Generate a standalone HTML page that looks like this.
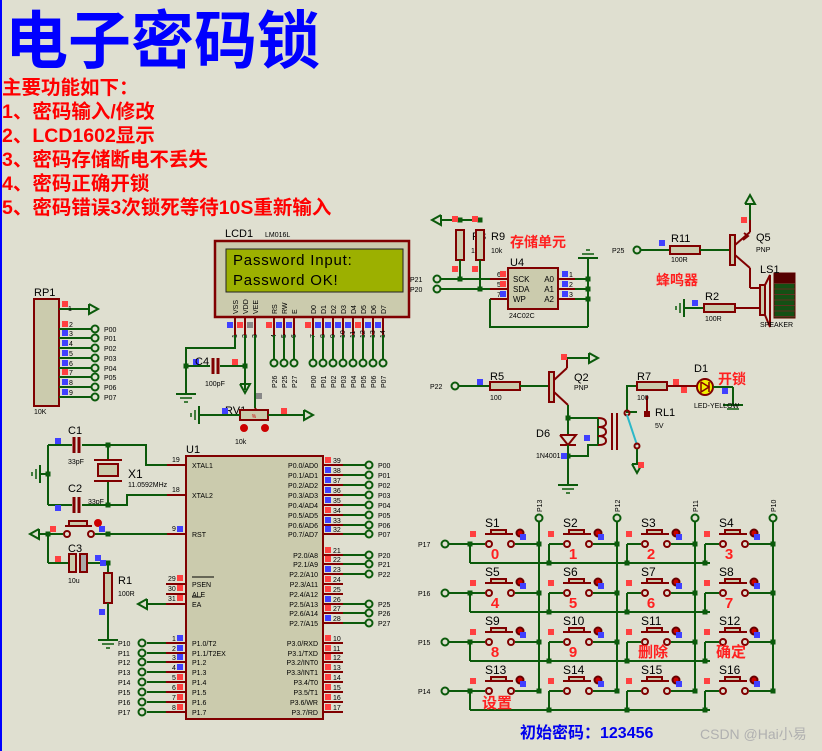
<!DOCTYPE html>
<html><head><meta charset="utf-8"><style>
html,body{margin:0;padding:0;background:#dfdfd0;}
svg{display:block}
text{font-family:"Liberation Sans","Noto Sans CJK SC",sans-serif}
</style></head><body>
<svg id="s" width="822" height="751" viewBox="0 0 822 751" xmlns="http://www.w3.org/2000/svg">
<rect width="822" height="751" fill="#dfdfd0"/>
<line x1="1" y1="0" x2="1" y2="751" stroke="#0000ff" stroke-width="2"/>
<text x="5" y="63" font-size="63" font-weight="bold" fill="#0000ff" font-family="Liberation Sans,Noto Sans CJK SC,sans-serif">电子密码锁</text>
<g fill="#ff0000" font-size="19.5" font-weight="bold">
<text x="2" y="94">主要功能如下：</text>
<text x="2" y="118">1、密码输入/修改</text>
<text x="2" y="142">2、LCD1602显示</text>
<text x="2" y="166">3、密码存储断电不丢失</text>
<text x="2" y="190">4、密码正确开锁</text>
<text x="2" y="214">5、密码错误3次锁死等待10S重新输入</text>
</g>
<g id="g"></g>
<text x="520" y="738" font-size="16" font-weight="bold" fill="#0000ee">初始密码：123456</text>
<text x="700" y="739" font-size="14" fill="#b0b0b0">CSDN @Hai小易</text>
</svg>
<script>
var G=document.getElementById('g'),h='';
var W='#0b5a0b',R='#800000',F='#cbcbad';
function L(x1,y1,x2,y2,c,w){h+='<line x1="'+x1+'" y1="'+y1+'" x2="'+x2+'" y2="'+y2+'" stroke="'+(c||W)+'" stroke-width="'+(w||2)+'"/>';}
function P(pts,c,w){h+='<polyline points="'+pts+'" fill="none" stroke="'+(c||W)+'" stroke-width="'+(w||2)+'"/>';}
function Rc(x,y,w,hh,f,c,sw){h+='<rect x="'+x+'" y="'+y+'" width="'+w+'" height="'+hh+'" fill="'+(f||F)+'" stroke="'+(c||R)+'" stroke-width="'+(sw||2)+'"/>';}
function T(x,y,s,sz,c,a,ex){h+='<text x="'+x+'" y="'+y+'" font-size="'+(sz||8)+'" fill="'+(c||'#000')+'"'+(a?' text-anchor="'+a+'"':'')+(ex||'')+'>'+s+'</text>';}
function C(x,y,r,f,c){h+='<circle cx="'+x+'" cy="'+y+'" r="'+(r||4)+'" fill="'+(f||'none')+'" stroke="'+(c||W)+'" stroke-width="2"/>';}
function D(x,y){h+='<rect x="'+(x-2.5)+'" y="'+(y-2.5)+'" width="5" height="5" fill="'+W+'"/>';}
function Q(x,y,c){h+='<rect x="'+(x-3)+'" y="'+(y-3)+'" width="6" height="6" fill="'+(c=='r'?'#ff4040':c=='g'?'#888':'#4040ff')+'"/>';}
function Gnd(x,y){L(x,y,x,y+10);L(x-10,y+10,x+10,y+10);L(x-6,y+14,x+6,y+14,W,1.5);L(x-2,y+18,x+2,y+18,W,1.5);}
function GndL(x,y){L(x,y,x-8,y);L(x-8,y-9,x-8,y+9);L(x-12,y-5,x-12,y+5,W,1.5);L(x-16,y-2,x-16,y+2,W,1.5);}
function ArrR(x,y){P((x-9)+','+(y-5)+' '+x+','+y+' '+(x-9)+','+(y+5)+' '+(x-9)+','+(y-5));}
function ArrL(x,y){P((x+9)+','+(y-5)+' '+x+','+y+' '+(x+9)+','+(y+5)+' '+(x+9)+','+(y-5));}
function ArrU(x,y){P((x-5)+','+(y+9)+' '+x+','+y+' '+(x+5)+','+(y+9)+' '+(x-5)+','+(y+9));}
function ArrD(x,y){P((x-5)+','+(y-9)+' '+x+','+y+' '+(x+5)+','+(y-9)+' '+(x-5)+','+(y-9));}
function ResH(x1,x2,y){Rc(x1,y-4,x2-x1,8);}
function ResV(x,y1,y2){Rc(x-4,y1,8,y2-y1);}
function CapH(x,y){L(x-2,y-8,x-2,y+8,R,3);L(x+3,y-8,x+3,y+8,R,3);}

// ---------- LCD ----------
T(225,237,'LCD1',11);T(265,237,'LM016L',7);
Rc(215,241,194,76,F,R,2.5);
h+='<rect x="226" y="249" width="177" height="43" fill="#9cb000" stroke="#222" stroke-width="1"/>';
T(233,265,'Password Input:',15,'#000',0,' font-family="Liberation Mono,monospace" letter-spacing="0.8"');
T(233,285,'Password OK!',15,'#000',0,' font-family="Liberation Mono,monospace" letter-spacing="0.8"');
var lp=[[235,'VSS','b'],[245,'VDD','r'],[255,'VEE','g'],[274,'RS','r'],[284,'RW','b'],[294,'E','b'],[313,'D0','r'],[323,'D1','b'],[333,'D2','b'],[343,'D3','b'],[353,'D4','b'],[363,'D5','r'],[373,'D6','b'],[383,'D7','b']];
lp.forEach(function(p,i){
 T(p[0]+3,314,p[1],7,'#000',0,' transform="rotate(-90 '+(p[0]+3)+' 314)"');
 L(p[0],317,p[0],335,R);Q(p[0]-5,325,p[2]);
 T(p[0]+2,338,''+(i+1),7,'#000',0,' transform="rotate(-90 '+(p[0]+2)+' 338)"');
});
var lab=['P26','P25','P27','P00','P01','P02','P03','P04','P05','P06','P07'];
lp.slice(3).forEach(function(p,i){L(p[0],335,p[0],359);C(p[0],363,3.5);T(p[0]+3,388,lab[i],7,'#000',0,' transform="rotate(-90 '+(p[0]+3)+' 388)"');});
P('235,335 235,348 186,348 186,384');L(245,335,245,390);L(255,335,255,408);P('255,408 258,413',R);
D(186,366);D(245,366);L(186,366,210,366);L(220,366,245,366);CapH(215,366);
Q(196,362,'b');Q(235,362,'r');T(205,386,'100pF',7);T(195,365,'C4',11);
Gnd(186,384);ArrD(245,393);
T(225,414,'RV1',11);Rc(240,410,28,10);T(254,418,'%',5,'#c00','middle');
L(207,415,240,415);L(268,415,305,415);ArrR(313,415);GndL(207,415);Q(225,411,'b');Q(284,411,'r');Q(259,396,'g');
C(244,428,3,'#c00','#c00');C(265,428,3,'#c00','#c00');T(235,444,'10k',7);

// ---------- RP1 ----------
T(34,296,'RP1',11);Rc(34,299,25,107);T(34,414,'10K',7);
L(59,309,90,309);ArrR(98,309);Q(65,304,'r');T(68,311,'1',7);
var rpy=[329,338,348,358,368,377,387,397],rpc=['r','b','b','b','b','r','b','b'],rpl=['P00','P01','P02','P03','P04','P05','P06','P07'];
rpy.forEach(function(y,i){L(59,y,91,y);C(95,y,3.5);T(104,y+3,rpl[i],7);Q(65,y-5,rpc[i]);T(69,y-2,''+(i+2),7);});

// ---------- U1 ----------
T(186,453,'U1',11);Rc(186,456,137,263);
L(167,465,186,465,R);T(172,462,'19',7);T(192,468,'XTAL1',7);
L(167,495,186,495,R);T(172,492,'18',7);T(192,498,'XTAL2',7);
L(167,534,186,534,R);T(172,531,'9',7);T(192,537,'RST',7);Q(180,529,'b');
[['29','PSEN',584],['30','ALE',594],['31','EA',604]].forEach(function(a){L(166,a[2],186,a[2],R);T(168,a[2]-3,a[0],7);T(192,a[2]+3,a[1],7);Q(180,a[2]-6,'r');});
L(192,577,214,577,'#000',1);L(192,597,201,597,'#000',1);
ArrL(138,604);L(147,604,166,604);
var p1=['P10','P11','P12','P13','P14','P15','P16','P17'];
[643,653,662,672,682,692,702,712].forEach(function(y,i){L(147,y,166,y);L(166,y,186,y,R);C(142,y,3.5);T(118,y+3,p1[i],7);T(172,y-2,''+(i+1),7);T(192,y+3,i<2?['P1.0/T2','P1.1/T2EX'][i]:'P1.'+i,7);Q(180,y-5,i<4?'b':'r');});
var p0y=[465,475,485,495,505,515,525,534],p0c=['r','b','b','b','b','r','b','b'];
p0y.forEach(function(y,i){L(323,y,343,y,R);L(343,y,365,y);C(369,y,3.5);T(378,y+3,'P0'+i,7);T(318,y+3,'P0.'+i+'/AD'+i,7,'#000','end');T(333,y-2,''+(39-i),7);Q(328,y-5,p0c[i]);});
var p2y=[555,564,574,584,594,604,613,623],p2c=['r','r','b','r','r','b','r','b'];
p2y.forEach(function(y,i){L(323,y,343,y,R);T(318,y+3,'P2.'+i+'/A'+(8+i),7,'#000','end');T(333,y-2,''+(21+i),7);Q(328,y-5,p2c[i]);
 if(i<3||i>4){L(343,y,365,y);C(369,y,3.5);T(378,y+3,'P2'+i,7);}});
var p3n=['P3.0/RXD','P3.1/TXD','P3.2/INT0','P3.3/INT1','P3.4/T0','P3.5/T1','P3.6/WR','P3.7/RD'];
[643,653,662,672,682,692,702,712].forEach(function(y,i){L(323,y,343,y,R);T(318,y+3,p3n[i],7,'#000','end');T(333,y-2,''+(10+i),7);Q(328,y-5,'r');});
T(68,434,'C1',11);T(68,464,'33pF',7);T(68,492,'C2',11);T(88,504,'33pF',7);
P('48,445 72,445');P('82,445 146,445 146,465 167,465');CapH(76,445);D(108,445);
P('48,505 72,505');P('82,505 127,505 127,495 167,495');CapH(76,505);D(108,505);
L(48,445,48,505);D(48,474);GndL(48,474);
L(108,445,108,460);L(108,481,108,505);Rc(98,464,20,12);L(94,460,122,460,R);L(94,481,122,481,R);
T(128,478,'X1',12);T(128,487,'11.0592MHz',7);Q(58,441,'b');Q(58,508,'b');
P('40,534 63,534');ArrL(30,534);D(48,534);C(67,534,3,'none',R);C(91,534,3,'none',R);L(95,534,167,534);D(108,534);
Rc(69,521,18,5);L(65,526,92,526,R);C(98,523,3,'#c00','#c00');Q(53,529,'r');Q(102,529,'b');
L(48,534,48,563);L(48,563,70,563);L(84,563,108,563);Rc(69,554,7,18,F,R);Rc(80,554,7,18,'#aaa',R);
D(108,563);T(68,552,'C3',11);T(68,583,'10u',7);Q(58,559,'r');Q(98,558,'b');Q(103,563,'b');
L(108,563,108,573);ResV(108,573,603);L(108,603,108,630);Gnd(108,630);Q(102,612,'b');T(118,584,'R1',11);T(118,596,'100R',7);

// ---------- U4 ----------
ArrL(432,220);L(441,220,480,220);D(460,220);D(480,220);
T(472,240,'R8',11);T(471,253,'10k',7);
ResV(460,230,260);ResV(480,230,260);Q(455,219,'r');Q(475,219,'r');Q(455,269,'r');Q(475,269,'r');
T(491,240,'R9',11);T(491,253,'10k',7);
T(510,247,'存储单元',14,'#ff2020','start',' font-weight="bold"');
C(437,279,3.5);C(437,289,3.5);T(410,282,'P21',7);T(410,292,'P20',7);
L(441,279,490,279);L(441,289,490,289);D(460,279);D(480,289);L(460,260,460,279);L(480,260,480,289);
L(490,279,508,279,R);L(490,289,508,289,R);L(490,299,508,299,R);
Rc(508,268,50,41);T(510,266,'U4',11);T(513,282,'SCK',8);T(513,292,'SDA',8);T(513,302,'WP',8);T(554,282,'A0',8,'#000','end');T(554,292,'A1',8,'#000','end');T(554,302,'A2',8,'#000','end');
T(497,277,'6',7);T(497,287,'5',7);T(497,297,'7',7);Q(503,274,'r');Q(503,284,'r');Q(503,294,'b');T(509,318,'24C02C',7);
[279,289,299].forEach(function(y,i){L(558,y,575,y,R);L(575,y,588,y);D(588,y);Q(565,y-5,'b');T(569,y-2,''+(i+1),7);});
L(588,258,588,327);P('490,299 490,327 588,327');
L(578,258,598,258);L(582,254,594,254,W,1.5);L(586,250,590,250,W,1.5);

// ---------- Q5 ----------
C(637,250,3.5);T(612,253,'P25',7);L(641,250,670,250);ResH(670,700,250);L(700,250,730,250);
Q(662,243,'b');T(671,242,'R11',11);T(671,262,'100R',7);
Rc(730,235,5,30,F,R);L(735,245,750,232,R);L(735,255,750,268,R);L(750,232,750,220,R);L(750,220,750,205);ArrU(750,195);Q(744,220,'r');
P('743,240 748,236 744,233',R);T(756,241,'Q5',11);T(756,252,'PNP',7);
T(656,285,'蜂鸣器',14,'#ff2020','start',' font-weight="bold"');
L(750,268,750,288,R);L(750,288,760,288,R);L(690,308,704,308);GndL(692,308);ResH(704,735,308);L(735,308,760,308,R);Q(695,303,'b');T(705,300,'R2',11);T(705,321,'100R',7);
Rc(760,285,5,30,F,R);P('765,285 770,275 770,327 765,315',R);
h+='<rect x="774" y="273" width="21" height="45" fill="#145014" stroke="#600" stroke-width="1"/>';
for(var k=0;k<8;k++)L(774,278+k*5.5,795,278+k*5.5,'#603020',1);
h+='<rect x="774" y="273" width="21" height="10" fill="#500"/>';
T(760,273,'LS1',11);T(760,327,'SPEAKER',7);

// ---------- Q2 relay ----------
C(455,386,3.5);T(430,389,'P22',7);L(459,386,490,386);ResH(490,520,386);L(520,386,548,386);Q(480,382,'b');T(490,380,'R5',11);T(490,400,'100',7);
Rc(549,372,5,30,F,R);L(554,380,567,368,R);L(554,392,568,405,R);L(567,368,567,358,R);L(567,358,588,358);ArrR(598,358);Q(564,357,'r');
T(574,381,'Q2',11);T(574,390,'PNP',7);
L(568,405,568,418);D(568,418);D(568,456);L(568,418,568,435);
P('560,445 576,445',R);P('560,435 576,435 568,445 560,435',R,2);L(568,445,568,456);L(568,456,568,475);Gnd(568,475);
T(536,437,'D6',11);T(536,458,'1N4001',7);Q(564,456,'b');
P('568,418 598,418');P('598,418 598,445 588,445 588,456 568,456');
h+='<path d="M598,418 q8,0 8,5 q0,4 -8,4 q8,0 8,5 q0,4 -8,4 q8,0 8,5 q0,4 -8,4" fill="none" stroke="'+R+'" stroke-width="2"/>';
Q(587,438,'b');L(612,413,612,450,R);L(617,413,617,450,R);
P('637,412 627,412 627,386 637,386');C(627,413,2.5,'none',R);L(627,415,637,445,'#2cb8c8',2);C(637,446,2.5,'none',R);L(637,449,637,465);ArrD(637,473);Q(641,465,'r');
L(647,396,647,412,R);Rc(645,412,4,4,'#800',R);T(655,416,'RL1',11);T(655,428,'5V',7);
ResH(637,667,386);L(667,386,697,386,R);T(637,380,'R7',11);T(637,400,'100',7);Q(676,382,'r');Q(684,390,'r');
C(705,387,8,'#f0f000',R);P('701,382 701,392 709,387 701,382','#800',1.5);L(709,382,709,392,'#800',1.5);
L(713,387,733,387);L(733,387,733,405);L(723,405,743,405);L(727,409,739,409,W,1.5);Q(725,391,'b');
T(694,372,'D1',11);T(694,408,'LED-YELLOW',7);T(718,384,'开锁',14,'#ff2020','start',' font-weight="bold"');

// ---------- Keypad ----------
var cols=[539,617,695,773],rows=[544,593,642,691],cn=['P13','P12','P11','P10'],rn=['P17','P16','P15','P14'];
cols.forEach(function(x,i){C(x,518,3.5);L(x,522,x,rows[3]);T(x+3,512,cn[i],7,'#000',0,' transform="rotate(-90 '+(x+3)+' 512)"');});
var lbl=[['0','1','2','3'],['4','5','6','7'],['8','9','删除','确定'],['设置','','','']];
rows.forEach(function(y,r){
 C(445,y,3.5);T(418,y+3,rn[r],7);L(449,y,470,y);D(470,y);
 L(470,y,470,y+19);L(470,y+19,710,y+19);
 cols.forEach(function(cx,c){
  var x0=489+c*78;
  if(c>0){L(x0-18,y+19,x0-18,y);L(x0-18,y,x0-4,y);D(x0-18,y+19);}else{L(470,y,x0-4,y);}
  C(x0,y,3,'none',R);C(x0+22,y,3,'none',R);L(x0+26,y,cx,y);D(cx,y);
  Rc(x0+2,y-14,15,4);L(x0-4,y-10,x0+24,y-10,R);
  C(x0+31,y-11,3.5,'#c00','#600');Q(x0+34,y-7,'b');Q(x0-16,y-10,'r');
  T(x0-4,y-17,'S'+(r*4+c+1),12);
  var t=lbl[r][c];if(t)T(t.length>1?x0-7:x0+6,y+(r==3?17:15),t,15,'#ff2020',t.length>1?'start':'middle',' font-weight="bold"');
 });
});
G.innerHTML=h;
</script>
</body></html>
